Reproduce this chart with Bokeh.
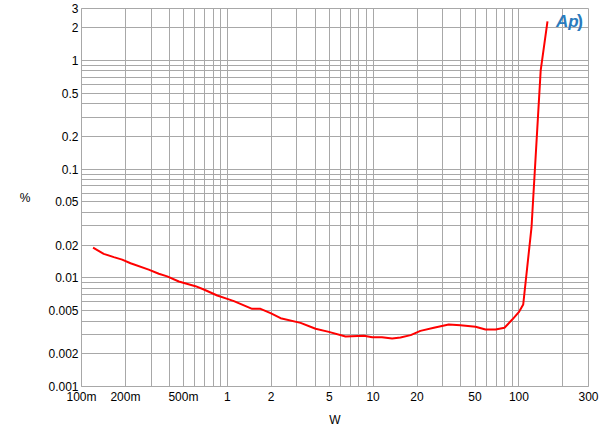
from bokeh.plotting import figure
from bokeh.models import FixedTicker, Label, Range1d
from bokeh.embed import file_html
from bokeh.resources import INLINE

# Data (THD+N % vs output power W)
watts = [0.12, 0.142, 0.1665, 0.19, 0.217, 0.289, 0.339, 0.387, 0.465, 0.605,
         0.69, 0.853, 1.0, 1.11, 1.48, 1.69, 1.98, 2.32, 3.18, 4.03, 4.97,
         6.47, 8.64, 9.86, 11.5, 13.5, 15.4, 18.1, 21.1, 26.1, 33.0, 39.7,
         50.4, 59.0, 69.2, 79.6, 90.0, 99.8, 107.0, 122.0, 141.0, 157.0]
thd = [0.0189, 0.0166, 0.0155, 0.0147, 0.0136, 0.0119, 0.0109, 0.0103,
       0.00925, 0.00837, 0.0078, 0.00687, 0.0064, 0.0061, 0.00518, 0.00518,
       0.00473, 0.00425, 0.00385, 0.0034, 0.00318, 0.00288, 0.00293, 0.00284,
       0.00284, 0.00277, 0.00282, 0.00297, 0.00325, 0.00347, 0.00372, 0.00366,
       0.00354, 0.00334, 0.00334, 0.00347, 0.00413, 0.00483, 0.00568, 0.0292,
       0.81, 2.28]

x_ticks = [0.1, 0.2, 0.5, 1, 2, 5, 10, 20, 50, 100, 300]
x_tick_labels = ["100m", "200m", "500m", "1", "2", "5", "10", "20", "50", "100", "300"]
y_ticks = [0.001, 0.002, 0.005, 0.01, 0.02, 0.05, 0.1, 0.2, 0.5, 1, 2, 3]
y_tick_labels = ["0.001", "0.002", "0.005", "0.01", "0.02", "0.05", "0.1", "0.2", "0.5", "1", "2", "3"]

x_grid = [m * d for d in (0.1, 1, 10) for m in range(1, 10)] + [100, 200, 300]
y_grid = [m * d for d in (0.001, 0.01, 0.1) for m in range(1, 10)] + [1, 2, 3]

FONT = "Liberation Sans"
GRAY = "#a8a8a8"

p = figure(width=600, height=430, x_axis_type="log", y_axis_type="log",
           x_range=Range1d(0.1, 300), y_range=Range1d(0.001, 3),
           output_backend="svg", toolbar_location=None,
           min_border_left=81, min_border_right=12, min_border_top=8,
           min_border_bottom=44)

p.line(watts, thd, line_color="#ff0000", line_width=2)

p.xaxis.ticker = FixedTicker(ticks=x_ticks)
p.xaxis.major_label_overrides = {t: l for t, l in zip(x_ticks, x_tick_labels)}
p.yaxis.ticker = FixedTicker(ticks=y_ticks)
p.yaxis.major_label_overrides = {t: l for t, l in zip(y_ticks, y_tick_labels)}
p.xgrid.ticker = FixedTicker(ticks=x_grid)
p.ygrid.ticker = FixedTicker(ticks=y_grid)

for g in (p.xgrid, p.ygrid):
    g.grid_line_color = GRAY
    g.grid_line_width = 1

for ax in (p.xaxis, p.yaxis):
    ax.axis_line_color = GRAY
    ax.major_tick_line_color = GRAY
    ax.major_tick_out = 0
    ax.major_tick_in = 0
    ax.minor_tick_line_color = None
    ax.major_label_text_font = FONT
    ax.major_label_text_font_size = "12px"
    ax.major_label_text_color = "#000000"
    ax.axis_label_text_font = FONT
    ax.axis_label_text_font_size = "12px"
    ax.axis_label_text_font_style = "normal"
    ax.axis_label_text_color = "#000000"
    ax.major_label_standoff = 3

p.xaxis.axis_label = "W"
p.xaxis.axis_label_standoff = 6
p.yaxis.axis_label = "%"
p.yaxis.axis_label_orientation = "horizontal"
p.yaxis.axis_label_standoff = 15

p.outline_line_color = GRAY
p.background_fill_color = "white"
p.border_fill_color = "white"

p.add_layout(Label(x=215, y=2.3, text="Ap", text_font=FONT,
                   text_font_style="bold italic", text_font_size="17px",
                   text_color="#2a7bbd", text_align="center",
                   text_baseline="middle"))
p.add_layout(Label(x=262, y=2.3, text=")", text_font=FONT,
                   text_font_style="bold", text_font_size="18px",
                   text_color="#2a7bbd", text_align="center",
                   text_baseline="middle"))

open("out.html", "w").write(file_html(p, INLINE))
